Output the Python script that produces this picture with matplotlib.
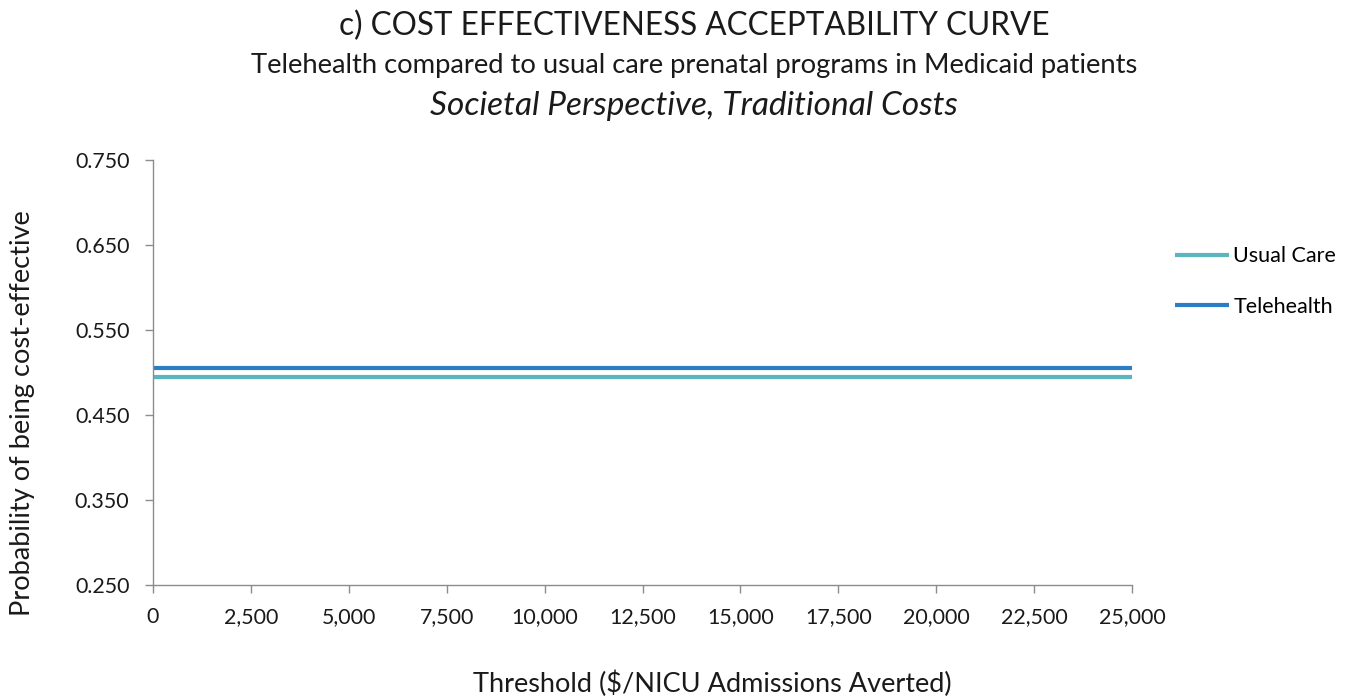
import matplotlib.pyplot as plt

thresholds = [0, 2500, 5000, 7500, 10000, 12500, 15000, 17500, 20000, 22500, 25000]
usual_care = [0.495] * len(thresholds)
telehealth = [0.505] * len(thresholds)
y_ticks = [0.25, 0.35, 0.45, 0.55, 0.65, 0.75]

plt.rcParams['font.family'] = ['Lato', 'DejaVu Sans']

W, H = 1353, 700
fig = plt.figure(figsize=(W / 100, H / 100), dpi=100)
ax = fig.add_axes([153 / W, 1 - 585 / H, 979 / W, 425 / H])

ax.plot(thresholds, usual_care, color='#5BB5BF', lw=3, label='Usual Care', solid_capstyle='butt')
ax.plot(thresholds, telehealth, color='#2B7EC5', lw=3, label='Telehealth', solid_capstyle='butt')

ax.set_xlim(0, 25000)
ax.set_ylim(0.25, 0.75)
ax.set_xticks(thresholds)
ax.set_xticklabels([f'{t:,}' for t in thresholds])
ax.set_yticks(y_ticks)
ax.set_yticklabels([f'{v:.3f}' for v in y_ticks])

for s in ['top', 'right']:
    ax.spines[s].set_visible(False)
for s in ['left', 'bottom']:
    ax.spines[s].set_color('#8c8c8c')
    ax.spines[s].set_linewidth(1)
ax.tick_params(axis='both', colors='#8c8c8c', length=6, width=1, labelsize=15.4,
               labelcolor='#1a1a1a')
ax.tick_params(axis='y', pad=11)
ax.tick_params(axis='x', pad=10)

cx = 694 / W
fig.text(cx, 1 - 35 / H, 'c) COST EFFECTIVENESS ACCEPTABILITY CURVE', ha='center', va='baseline',
         fontsize=22.7, color='#1a1a1a')
fig.text(cx, 1 - 73 / H, 'Telehealth compared to usual care prenatal programs in Medicaid patients',
         ha='center', va='baseline', fontsize=19.7, color='#1a1a1a')
fig.text(cx, 1 - 115 / H, 'Societal Perspective, Traditional Costs', ha='center', va='baseline',
         fontsize=24, style='italic', color='#1a1a1a')

fig.text(712 / W, 1 - 692 / H, 'Threshold ($/NICU Admissions Averted)', ha='center', va='baseline',
         fontsize=19.5, color='#1a1a1a')
fig.text(23 / W, 1 - 413 / H, 'Probability of being cost-effective', ha='center', va='center',
         rotation=90, fontsize=19.6, color='#1a1a1a')

ax.legend(loc='center left', bbox_to_anchor=(1175 / W, 1 - 281.5 / H), bbox_transform=fig.transFigure,
          frameon=False, borderpad=0, borderaxespad=0, handlelength=2.5, handletextpad=0.2,
          labelspacing=1.4, fontsize=15.5)

fig.savefig('out.png', dpi=100)
